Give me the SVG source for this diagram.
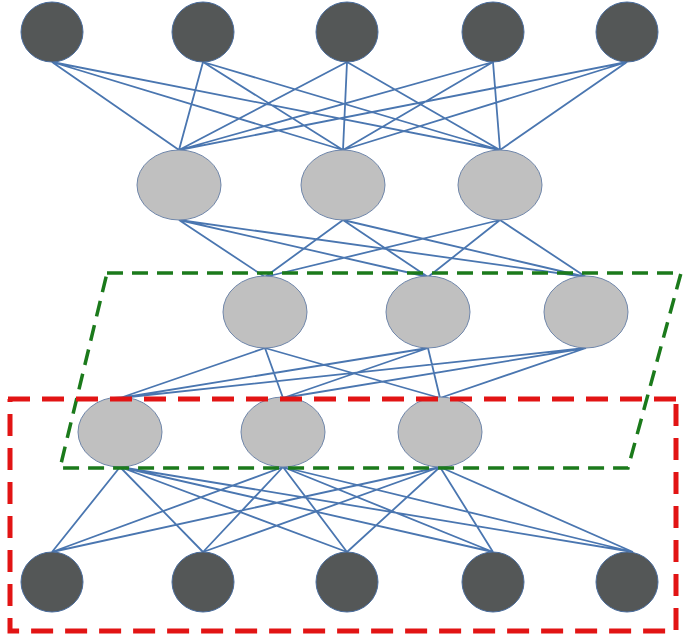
<svg xmlns="http://www.w3.org/2000/svg" width="683" height="642" viewBox="0 0 683 642">
<style>
.e{stroke:#4a76b0;stroke-width:1.8;fill:none}
.dark{fill:#545757;stroke:#4a6d9e;stroke-width:1}
.light{fill:#c0c0c0;stroke:#6f86aa;stroke-width:1}
.green{fill:none;stroke:#1b7a1b;stroke-width:3.5;stroke-dasharray:16 9}
.red{fill:none;stroke:#e21414;stroke-width:5;stroke-dasharray:22 12}
</style>
<rect width="683" height="642" fill="#fff"/>
<g id="connectors" class="e">
<path d="M52 62L179 150M52 62L343 150M52 62L500 150M203 62L179 150M203 62L343 150M203 62L500 150M347 62L179 150M347 62L343 150M347 62L500 150M493 62L179 150M493 62L343 150M493 62L500 150M627 62L179 150M627 62L343 150M627 62L500 150"/>
<path d="M179 220L265 277M179 220L428 277M179 220L586 277M343 220L265 277M343 220L428 277M343 220L586 277M500 220L265 277M500 220L428 277M500 220L586 277"/>
<path d="M265 348L120 398M265 348L283 398M265 348L440 398M428 348L120 398M428 348L283 398M428 348L440 398M586 348L120 398M586 348L283 398M586 348L440 398"/>
<path d="M120 467L52 552M120 467L203 552M120 467L347 552M120 467L493 552M120 467L633 552M283 467L52 552M283 467L203 552M283 467L347 552M283 467L493 552M283 467L633 552M440 467L52 552M440 467L203 552M440 467L347 552M440 467L493 552M440 467L633 552"/>
</g>
<g id="t1"><ellipse class="dark" cx="52" cy="32" rx="31" ry="30"/></g>
<g id="t2"><ellipse class="dark" cx="203" cy="32" rx="31" ry="30"/></g>
<g id="t3"><ellipse class="dark" cx="347" cy="32" rx="31" ry="30"/></g>
<g id="t4"><ellipse class="dark" cx="493" cy="32" rx="31" ry="30"/></g>
<g id="t5"><ellipse class="dark" cx="627" cy="32" rx="31" ry="30"/></g>
<g id="h1a"><ellipse class="light" cx="179" cy="185" rx="42" ry="35"/></g>
<g id="h1b"><ellipse class="light" cx="343" cy="185" rx="42" ry="35"/></g>
<g id="h1c"><ellipse class="light" cx="500" cy="185" rx="42" ry="35"/></g>
<g id="h2a"><ellipse class="light" cx="265" cy="312" rx="42" ry="36"/></g>
<g id="h2b"><ellipse class="light" cx="428" cy="312" rx="42" ry="36"/></g>
<g id="h2c"><ellipse class="light" cx="586" cy="312" rx="42" ry="36"/></g>
<g id="h3a"><ellipse class="light" cx="120" cy="432" rx="42" ry="35"/></g>
<g id="h3b"><ellipse class="light" cx="283" cy="432" rx="42" ry="35"/></g>
<g id="h3c"><ellipse class="light" cx="440" cy="432" rx="42" ry="35"/></g>
<g id="b1"><ellipse class="dark" cx="52" cy="582" rx="31" ry="30"/></g>
<g id="b2"><ellipse class="dark" cx="203" cy="582" rx="31" ry="30"/></g>
<g id="b3"><ellipse class="dark" cx="347" cy="582" rx="31" ry="30"/></g>
<g id="b4"><ellipse class="dark" cx="493" cy="582" rx="31" ry="30"/></g>
<g id="b5"><ellipse class="dark" cx="627" cy="582" rx="31" ry="30"/></g>
<g id="green-box"><path class="green" d="M107 273L681 273L628 468L60 468Z"/></g>
<g id="red-box"><path class="red" d="M8 399L680 399L676 400L676 631L10 631L10 399"/></g>
</svg>
